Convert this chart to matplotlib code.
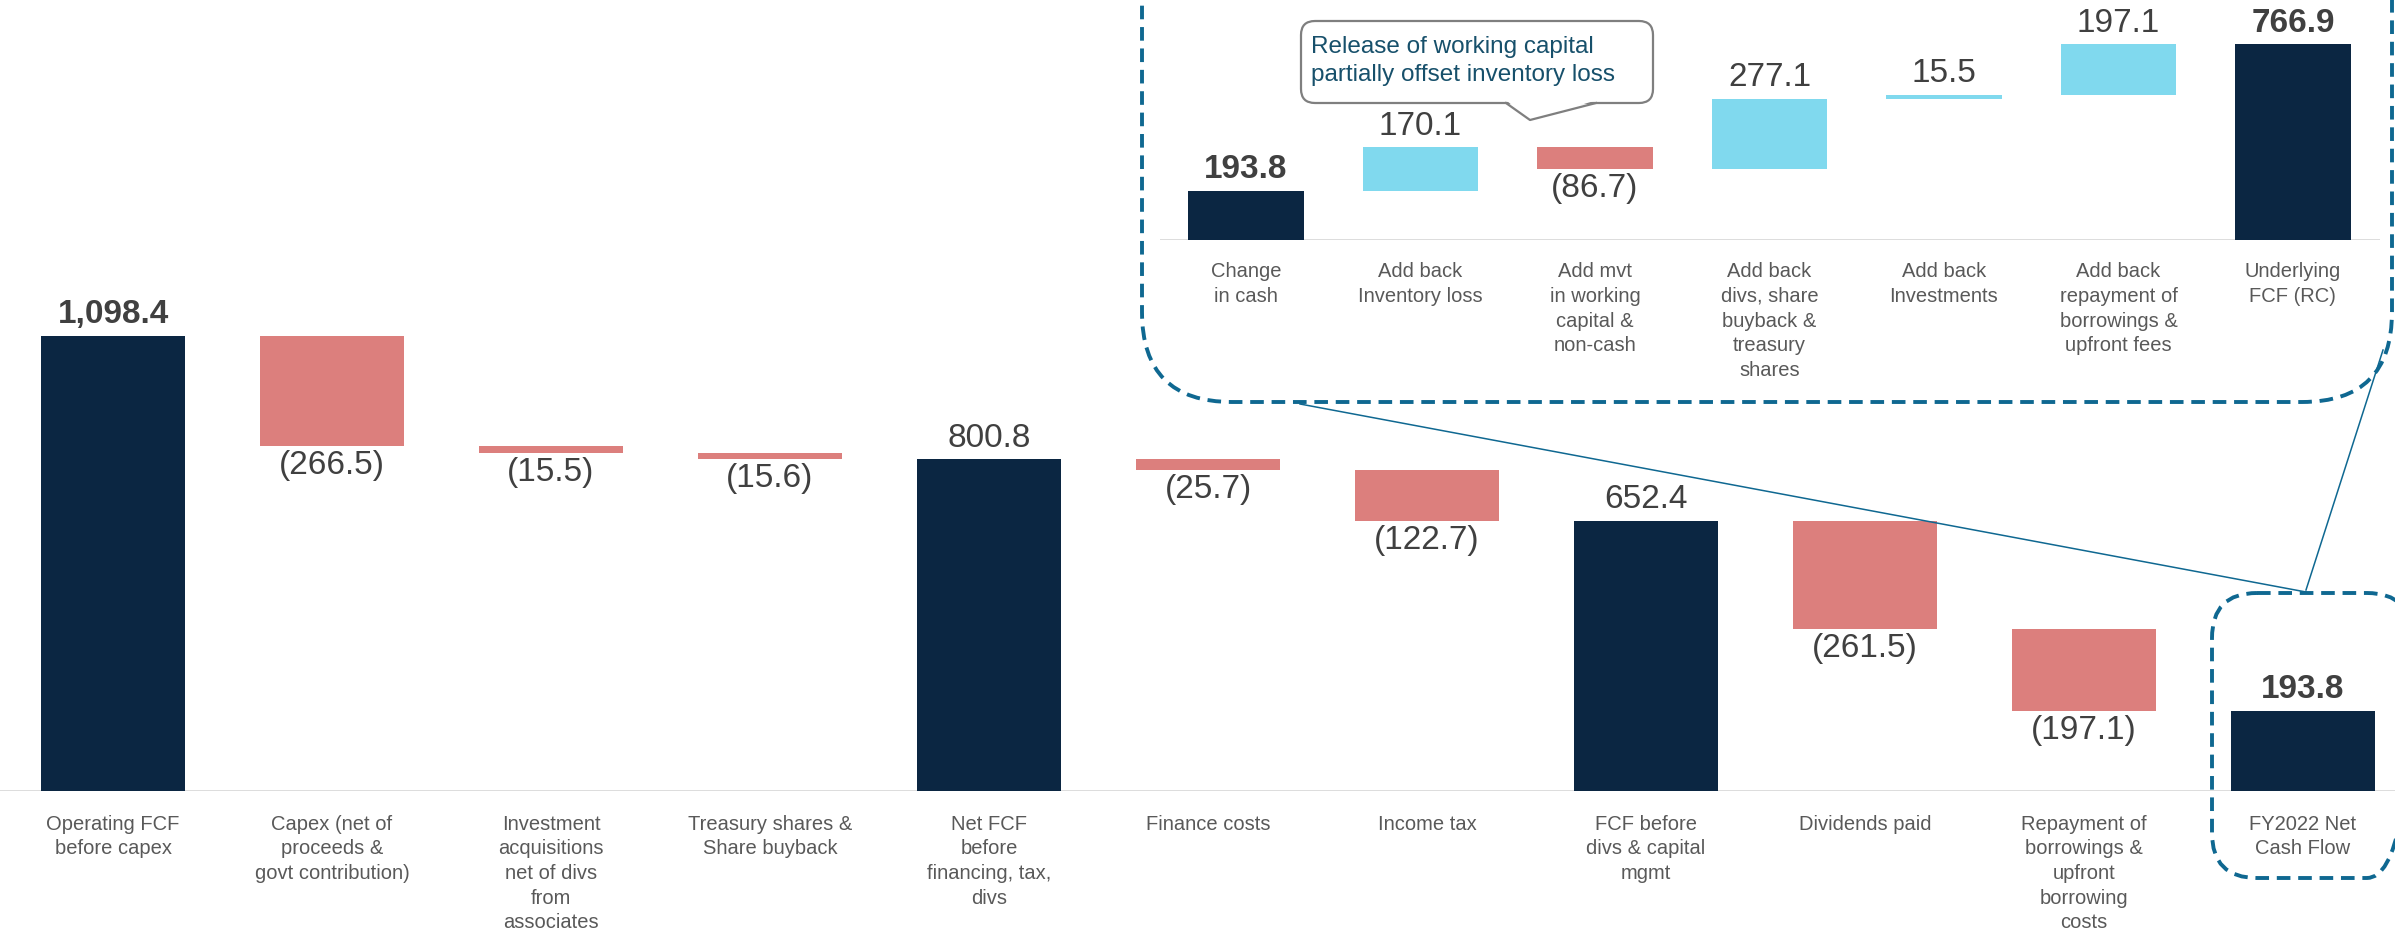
import matplotlib
matplotlib.use("Agg")
import matplotlib.pyplot as plt
from matplotlib.patches import FancyBboxPatch, Polygon

plt.rcParams['font.family'] = ['Liberation Sans', 'DejaVu Sans']

# main waterfall
main_labels = ["Operating FCF\nbefore capex", "Capex (net of\nproceeds &\ngovt contribution)",
               "Investment\nacquisitions\nnet of divs\nfrom\nassociates", "Treasury shares &\nShare buyback",
               "Net FCF\nbefore\nfinancing, tax,\ndivs", "Finance costs", "Income tax",
               "FCF before\ndivs & capital\nmgmt", "Dividends paid",
               "Repayment of\nborrowings &\nupfront\nborrowing\ncosts", "FY2022 Net\nCash Flow"]
main_values = [1098.4, -266.5, -15.5, -15.6, 800.8, -25.7, -122.7, 652.4, -261.5, -197.1, 193.8]
main_total = [True, False, False, False, True, False, False, True, False, False, True]
main_bold = [True, False, False, False, False, False, False, False, False, False, True]

# inset (underlying FCF bridge)
inset_labels = ["Change\nin cash", "Add back\nInventory loss", "Add mvt\nin working\ncapital &\nnon-cash",
                "Add back\ndivs, share\nbuyback &\ntreasury\nshares", "Add back\nInvestments",
                "Add back\nrepayment of\nborrowings &\nupfront fees", "Underlying\nFCF (RC)"]
inset_values = [193.8, 170.1, -86.7, 277.1, 15.5, 197.1, 766.9]
inset_total = [True, False, False, False, False, False, True]
inset_bold = [True, False, False, False, False, False, True]

NAVY = "#0B2642"
RED = "#DC7F7D"
CYAN = "#80D9EE"
VAL = "#404040"
CAT = "#595959"
BLUE = "#0F6891"


def fmt(v):
    s = f"{abs(v):,.1f}"
    return f"({s})" if v < 0 else s


def waterfall(ax, labels, values, totals, bolds, up_color, vsize, csize, cat_off):
    run = 0.0
    for i, (v, tot) in enumerate(zip(values, totals)):
        if tot:
            bottom, h, col = 0, v, NAVY
            run = v
        else:
            bottom, h = (run, v) if v >= 0 else (run + v, -v)
            col = up_color if v >= 0 else RED
            run += v
        ax.bar(i, h, bottom=bottom, width=0.66, color=col, zorder=3)
        w = "bold" if bolds[i] else "normal"
        if v >= 0:
            ax.annotate(fmt(v), (i, bottom + h), xytext=(0, 4), textcoords="offset points",
                        ha="center", va="bottom", fontsize=vsize, color=VAL, fontweight=w)
        else:
            ax.annotate(fmt(v), (i, bottom), xytext=(0, -3), textcoords="offset points",
                        ha="center", va="top", fontsize=vsize, color=VAL, fontweight=w)
        ax.annotate(labels[i], (i, 0), xytext=(0, -cat_off), textcoords="offset points",
                    ha="center", va="top", fontsize=csize, color=CAT, linespacing=1.38)
    ax.axhline(0, color="#D9D9D9", lw=2, zorder=2)
    ax.axis("off")


fig = plt.figure(figsize=(23.95, 9.3), dpi=100)

ax = fig.add_axes([0, 139 / 930, 1, 791 / 930])
ax.set_xlim(-0.516, 10.42)
ax.set_ylim(0, 1909)
waterfall(ax, main_labels, main_values, main_total, main_bold, CYAN, 24, 14.5, 17)

ax2 = fig.add_axes([1160 / 2395, 690 / 930, 1220 / 2395, 240 / 930])
ax2.set_xlim(-0.493, 6.499)
ax2.set_ylim(0, 941)
waterfall(ax2, inset_labels, inset_values, inset_total, inset_bold, CYAN, 24, 14.5, 16)

# overlay in pixel coordinates for callout, dashed boxes and connectors
ov = fig.add_axes([0, 0, 1, 1])
ov.set_xlim(0, 2395)
ov.set_ylim(930, 0)
ov.axis("off")
ov.patch.set_alpha(0)

ov.add_patch(FancyBboxPatch((1142, -300), 1250, 702, boxstyle="round,pad=0,rounding_size=90",
                            fill=False, ec=BLUE, lw=2.8, ls=(0, (3.5, 2))))
ov.add_patch(FancyBboxPatch((2212, 593), 200, 285, boxstyle="round,pad=0,rounding_size=45",
                            fill=False, ec=BLUE, lw=2.8, ls=(0, (3.5, 2))))
ov.plot([1300, 2306], [404, 592], color=BLUE, lw=1.1)
ov.plot([2383, 2306], [350, 590], color=BLUE, lw=1.1)

# callout bubble
ov.add_patch(FancyBboxPatch((1301, 21), 352, 82, boxstyle="round,pad=0,rounding_size=14",
                            fc="white", ec="#7F7F7F", lw=1.6, zorder=5))
ov.add_patch(Polygon([(1507, 101), (1530, 120), (1594, 101)], closed=True, fc="white", ec="none", zorder=6))
ov.plot([1506, 1530, 1596], [103, 120, 103], color="#7F7F7F", lw=1.6, zorder=7)
ov.text(1311, 61, "Release of working capital\npartially offset inventory loss", ha="left", va="center",
        fontsize=17.5, color="#17506B", linespacing=1.4, zorder=8)

fig.savefig("out.png", dpi=100)
